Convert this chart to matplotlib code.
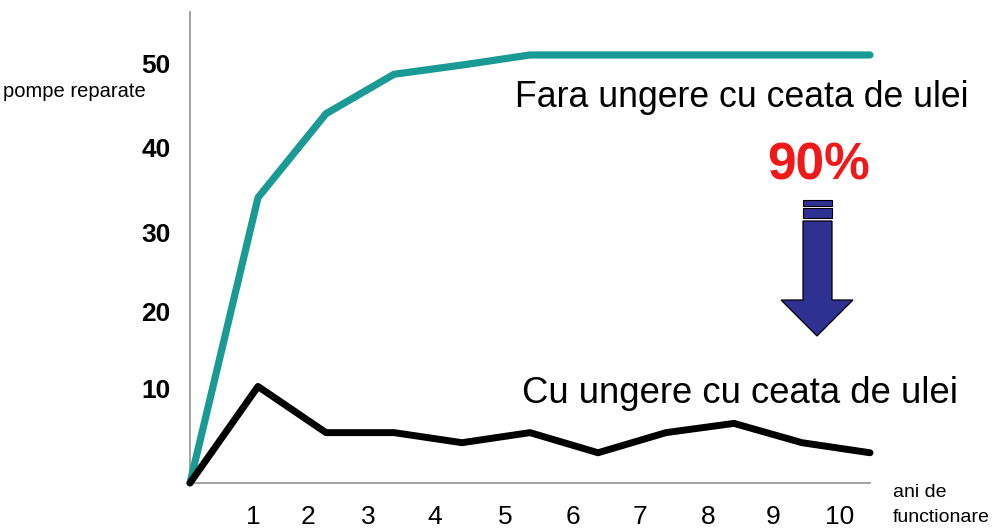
import matplotlib.pyplot as plt
from matplotlib.patches import Polygon, Rectangle

plt.rcParams["font.family"] = ["Liberation Sans", "DejaVu Sans"]

# --- data ---
years = [0, 1, 2, 3, 4, 5, 6, 7, 8, 9, 10]
fara_ungere = [0, 34.0, 44.0, 48.7, 49.8, 51.0, 51.0, 51.0, 51.0, 51.0, 51.0]
cu_ungere = [0, 11.5, 6.0, 6.0, 4.8, 6.0, 3.6, 6.0, 7.1, 4.8, 3.6]

x_labels = ["1", "2", "3", "4", "5", "6", "7", "8", "9", "10"]
y_labels = ["10", "20", "30", "40", "50"]

# label positions as placed on the original slide (slightly off the grid)
x_label_pos = [0.93, 1.74, 2.62, 3.60, 4.63, 5.63, 6.62, 7.62, 8.57, 9.56]
y_label_pos = [11.3, 20.4, 29.8, 40.0, 50.0]

TEAL = "#1a9a95"
NAVY = "#2e3192"
RED = "#f01818"


def main():
    fig = plt.figure(figsize=(10, 5.29), dpi=100)
    ax = fig.add_axes([0.19, 0.087, 0.68, 0.890])

    ax.plot(years, fara_ungere, color=TEAL, linewidth=5.2, clip_on=False,
            solid_capstyle="round", solid_joinstyle="round", zorder=3)
    ax.plot(years, cu_ungere, color="black", linewidth=5.0, clip_on=False,
            solid_capstyle="round", solid_joinstyle="round", zorder=3)

    ax.set_xlim(0, 10)
    ax.set_ylim(0, 56.1)

    ax.set_xticks(x_label_pos)
    ax.set_xticklabels(x_labels, fontsize=19)
    ax.set_yticks(y_label_pos)
    ax.set_yticklabels(y_labels, fontsize=19, fontweight="bold")
    ax.tick_params(axis="both", length=0)
    ax.tick_params(axis="x", pad=16)
    ax.tick_params(axis="y", pad=14)

    for side in ("top", "right"):
        ax.spines[side].set_visible(False)
    for side in ("left", "bottom"):
        ax.spines[side].set_color("#9a9a9a")
        ax.spines[side].set_linewidth(1.3)

    # axis captions
    fig.text(0.003, 1 - 97 / 529, "pompe reparate", fontsize=14.5,
             ha="left", va="baseline")
    fig.text(0.893, 1 - 497 / 529, "ani de", fontsize=14, ha="left", va="baseline")
    fig.text(0.893, 1 - 522 / 529, "functionare", fontsize=14, ha="left", va="baseline")

    # series annotations
    fig.text(0.515, 1 - 107 / 529, "Fara ungere cu ceata de ulei", fontsize=25.7,
             ha="left", va="baseline")
    fig.text(0.522, 1 - 403 / 529, "Cu ungere cu ceata de ulei", fontsize=26.3,
             ha="left", va="baseline")
    fig.text(0.767, 1 - 179 / 529, "90%", fontsize=37, fontweight="bold",
             color=RED, ha="left", va="baseline")

    # down arrow (figure pixels -> fraction)
    def fx(px):
        return px / 1000

    def fy(py):
        return 1 - py / 529

    for top, bottom in [(200, 205.5), (208, 218)]:
        fig.add_artist(Rectangle((fx(803), fy(bottom)), fx(832) - fx(803),
                                 fy(top) - fy(bottom), transform=fig.transFigure,
                                 facecolor=NAVY, edgecolor="black", linewidth=0.8))
    arrow = [(803, 221), (832, 221), (832, 300), (853, 300), (817, 336),
             (781, 300), (803, 300)]
    fig.add_artist(Polygon([(fx(x), fy(y)) for x, y in arrow], closed=True,
                           transform=fig.transFigure, facecolor=NAVY,
                           edgecolor="black", linewidth=0.9))

    fig.savefig("out.png", dpi=100)
    plt.close(fig)


if __name__ == "__main__":
    main()
